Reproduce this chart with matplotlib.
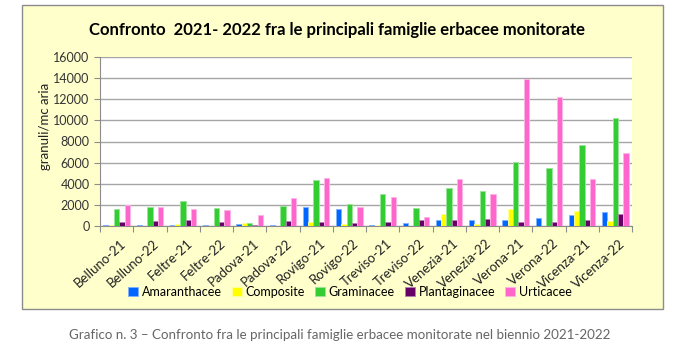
import numpy as np
import matplotlib.pyplot as plt
from matplotlib.patches import Rectangle

plt.rcParams['font.family'] = ['Lato', 'DejaVu Sans']

stations = ["Belluno-21", "Belluno-22", "Feltre-21", "Feltre-22", "Padova-21", "Padova-22",
            "Rovigo-21", "Rovigo-22", "Treviso-21", "Treviso-22", "Venezia-21", "Venezia-22",
            "Verona-21", "Verona-22", "Vicenza-21", "Vicenza-22"]

amaranthacee = [100, 100, 100, 100, 160, 100, 1800, 1610, 130, 250, 540, 570, 570, 730, 1010, 1330]
composite = [60, 30, 220, 30, 250, 30, 410, 220, 60, 30, 1140, 220, 1580, 30, 1390, 470]
graminacee = [1580, 1800, 2370, 1710, 250, 1860, 4330, 2120, 3030, 1740, 3630, 3290, 6070, 5500, 7650, 10180]
plantaginacee = [410, 470, 540, 350, 100, 510, 410, 280, 410, 540, 540, 630, 410, 410, 570, 1140]
urticacee = [1960, 1800, 1580, 1520, 1010, 2690, 4550, 1800, 2750, 880, 4460, 3030, 13900, 12260, 4460, 6890]

series = [("Amaranthacee", amaranthacee, "#0066FF", "#80B3FF"),
          ("Composite", composite, "#FFFF00", "#FFFF99"),
          ("Graminacee", graminacee, "#33CC33", "#99E699"),
          ("Plantaginacee", plantaginacee, "#660066", "#B380B3"),
          ("Urticacee", urticacee, "#FF66CC", "#FFB3E6")]

fig = plt.figure(figsize=(6.87, 3.64), dpi=100)
fig.patch.set_facecolor("white")

# chart box behind everything
fig.patches.append(Rectangle((22 / 687, 1 - 309 / 364), (663 - 22) / 687, (309 - 5) / 364,
                             transform=fig.transFigure, facecolor="#FFFFCC",
                             edgecolor="#8C8C8C", linewidth=1.0, zorder=-5))

ax = fig.add_axes([100 / 687, 1 - 226 / 364, (632 - 100) / 687, (226 - 57) / 364])
ax.set_zorder(2)
ax.set_facecolor("white")

x = np.arange(len(stations))
w = 0.158
for i, (name, vals, col, edge) in enumerate(series):
    ax.bar(x + (i - 2) * w, vals, width=w, color=col, edgecolor=edge, linewidth=0.6,
           label=name, zorder=3)

ax.set_xlim(-0.5, len(stations) - 0.5)
ax.set_ylim(0, 16000)
ax.set_yticks(range(0, 16001, 2000))
ax.tick_params(axis="y", labelsize=9, colors="#333333", length=4, color="#8C8C8C")
ax.yaxis.grid(True, color="#A6A6A6", linewidth=1.0, zorder=0)

ax.set_xticks(np.arange(-0.5, len(stations), 1.0))
ax.set_xticklabels([])
ax.set_xticks(x + 0.1, minor=True)
ax.set_xticklabels(stations, minor=True, rotation=42, ha="right", rotation_mode="anchor",
                   fontsize=9.5, color="#222222")
ax.tick_params(axis="x", which="major", length=4, color="#8C8C8C")
ax.tick_params(axis="x", which="minor", length=0, pad=8)

for s in ["top", "right"]:
    ax.spines[s].set_visible(False)
for s in ["left", "bottom"]:
    ax.spines[s].set_color("#8C8C8C")

fig.text(0.49, 1 - 30 / 364, "Confronto  2021- 2022 fra le principali famiglie erbacee monitorate",
         ha="center", va="center", fontsize=12, fontweight="bold", color="black")
fig.text(45 / 687, 1 - 126 / 364, "granuli/mc aria", rotation=90, ha="center", va="center",
         fontsize=9.5, color="#222222")

ax.legend(loc="center", bbox_to_anchor=(350 / 687, 1 - 292 / 364), bbox_transform=fig.transFigure,
          ncol=5, frameon=False, fontsize=9, handlelength=0.8, handleheight=0.8,
          handletextpad=0.3, columnspacing=0.8)

fig.text(0.495, 1 - 335 / 364,
         "Grafico n. 3 \u2013 Confronto fra le principali famiglie erbacee monitorate nel biennio 2021-2022",
         ha="center", va="center", fontsize=9.6, color="#666666")

fig.savefig("out.png", dpi=100)
